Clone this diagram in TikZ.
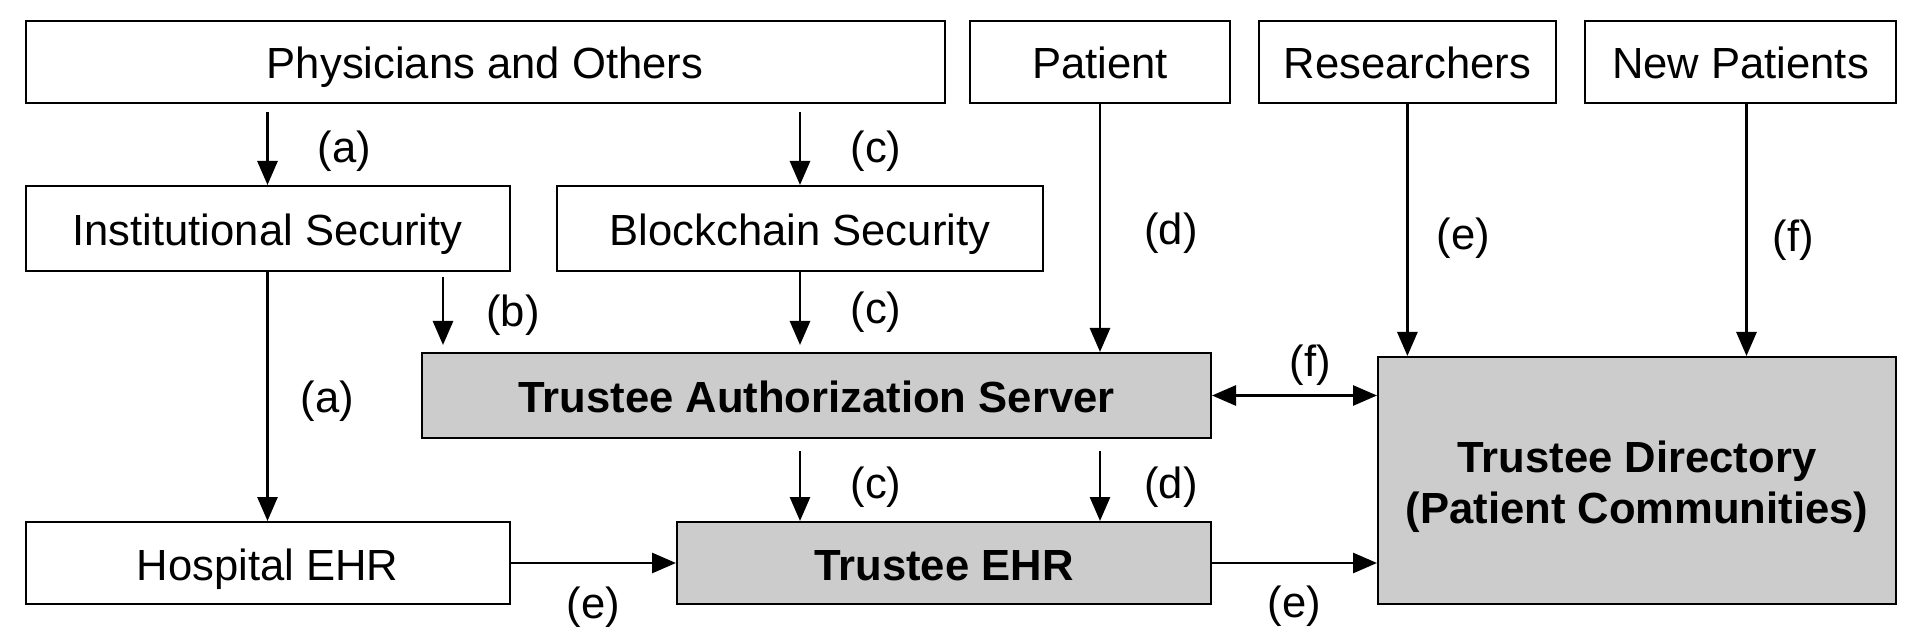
\documentclass[tikz,border=0pt]{standalone}
\usepackage{fontspec}
\setmainfont{Liberation Sans}
\usetikzlibrary{arrows.meta}
\definecolor{boxgrey}{HTML}{CCCCCC}
\begin{document}
\begin{tikzpicture}[x=0.5pt,y=-0.5pt,
	font=\fontsize{21.8}{25.7}\selectfont,
	box/.style={draw,line width=1pt,inner sep=0pt,text height=17pt,text depth=0pt},
	greybox/.style={box,fill=boxgrey,font=\fontsize{21.8}{25.7}\selectfont\bfseries},
	dirbox/.style={draw,line width=1pt,inner sep=0pt,fill=boxgrey,align=center,
		font=\fontsize{21.8}{25.7}\selectfont\bfseries},
	arr/.style={-{Triangle[length=12pt,width=10pt]},line width=1.4pt},
	lbl/.style={inner sep=0pt}]
	\useasboundingbox (0,0) rectangle (1928,636);
	% top row
	\node[box,minimum width=459.5pt,minimum height=41pt] (phys) at (485,62) {Physicians and Others};
	\node[box,minimum width=129.6pt,minimum height=41pt] (pat) at (1100,62) {Patient};
	\node[box,minimum width=148.6pt,minimum height=41pt] (res) at (1407.4,62) {Researchers};
	\node[box,minimum width=155.5pt,minimum height=41pt] (newp) at (1740.5,62) {New Patients};
	% security layer
	\node[box,minimum width=242pt,minimum height=42.5pt] (inst) at (267.5,228.5) {Institutional Security};
	\node[box,minimum width=243pt,minimum height=42.5pt] (blk) at (800,228.5) {Blockchain Security};
	% trustee
	\node[greybox,minimum width=394.5pt,minimum height=42.5pt] (tas) at (816.5,395.5) {Trustee Authorization Server};
	\node[dirbox,minimum width=259pt,minimum height=123.5pt] (dir) at (1637,480.5)
		{\rule{0pt}{22pt}Trustee Directory\\(Patient Communities)};
	\node[box,minimum width=242pt,minimum height=41pt] (hosp) at (267.5,563) {Hospital EHR};
	\node[greybox,minimum width=267pt,minimum height=41pt] (tehr) at (944,563) {Trustee EHR};
	\coordinate (btip) at (443,345);
	
	\draw[arr,shorten <=4pt] (inst.north |- phys.south) -- (inst.north)
		node[lbl,midway,xshift=38.5pt,yshift=-3.3pt] (la1) {(a)};
	\draw[arr,shorten <=4pt] (blk.north |- phys.south) -- (blk.north)
		node[lbl,midway,xshift=38pt,yshift=-3.3pt] (lc1) {(c)};
	\draw[arr,shorten <=2.5pt] (inst.south -| btip) -- (btip)
		node[lbl,midway,xshift=35pt,yshift=-3.5pt] (lb) {(b)};
	\draw[arr,shorten >=3.5pt] (blk.south) -- (blk.south |- tas.north)
		node[lbl,midway,xshift=38pt] (lc2) {(c)};
	\draw[arr] (pat.south) -- (pat.south |- tas.north)
		node[lbl,midway,xshift=35.5pt,yshift=-2.5pt] (ld1) {(d)};
	\draw[arr] (res.south) -- (res.south |- dir.north)
		node[lbl,midway,xshift=28pt,yshift=-4pt] (le1) {(e)};
	\draw[arr] ([xshift=3pt]newp.south) -- ([xshift=3pt]newp.south |- dir.north)
		node[lbl,midway,xshift=23.5pt,yshift=-5pt] (lf1) {(f)};
	\draw[arr] (inst.south) -- (hosp.north)
		node[lbl,midway,xshift=30pt,yshift=-2.3pt] (la2) {(a)};
	\draw[arr,shorten <=6pt] (blk.south |- tas.south) -- (blk.south |- tehr.north)
		node[lbl,midway,xshift=38pt,yshift=-3.5pt] (lc3) {(c)};
	\draw[arr,shorten <=6pt] (pat.south |- tas.south) -- (pat.south |- tehr.north)
		node[lbl,midway,xshift=35.5pt,yshift=-3.5pt] (ld2) {(d)};
	\draw[{Triangle[length=12pt,width=10pt]}-{Triangle[length=12pt,width=10pt]},line width=1.4pt]
		(tas.east) -- (tas.east -| dir.west)
		node[lbl,midway,xshift=8pt,yshift=15pt] (lf2) {(f)};
	\draw[arr] (hosp.east) -- (hosp.east -| tehr.west)
		node[lbl,midway,yshift=-22pt] (le2) {(e)};
	\draw[arr] (tehr.east) -- (tehr.east -| dir.west)
		node[lbl,midway,yshift=-21.7pt] (le3) {(e)};
\end{tikzpicture}
\end{document}
